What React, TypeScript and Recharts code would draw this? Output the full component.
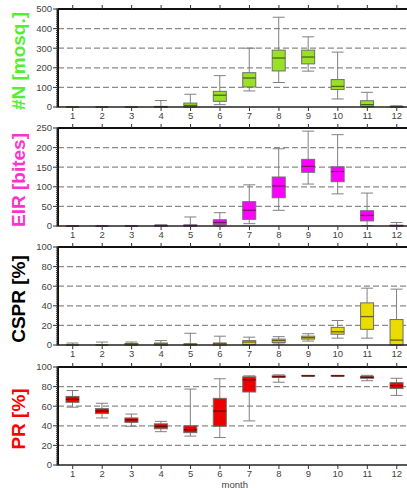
import React from 'react';
import { ComposedChart, Bar, XAxis, YAxis, CartesianGrid } from 'recharts';

const months = ['1', '2', '3', '4', '5', '6', '7', '8', '9', '10', '11', '12'];

// #N [mosq.]
const nMin = [0, 0, 0, 0, 0, 12, 82, 125, 183, 41, 0, 0];
const nQ1 = [0, 0, 0, 0, 0, 29, 102, 184, 220, 89, 3, 0];
const nMed = [0, 0, 0, 1, 8, 60, 148, 250, 255, 105, 12, 1];
const nQ3 = [0, 0, 0, 3, 20, 80, 175, 290, 290, 140, 32, 3];
const nMax = [0, 0, 0, 33, 65, 160, 300, 458, 358, 280, 75, 6];
const nTicks = [0, 100, 200, 300, 400, 500];

// EIR [bites]
const eirMin = [0, 0, 0, 0, 0, 0, 6, 40, 107, 82, 1, 0];
const eirQ1 = [0, 0, 0, 0, 0, 3, 17, 72, 137, 113, 13, 0];
const eirMed = [0, 0, 0, 1, 1, 9, 40, 102, 152, 139, 27, 1];
const eirQ3 = [0, 0, 0, 2, 3, 16, 62, 125, 170, 151, 39, 2];
const eirMax = [0, 0, 0, 3, 23, 34, 105, 197, 242, 233, 84, 9];
const eirTicks = [0, 50, 100, 150, 200, 250];

// CSPR [%]
const csprMin = [0, 0, 0, 0, 0, 0, 0, 1, 4, 7, 7, 0];
const csprQ1 = [0, 0, 0, 0, 0, 0, 0.5, 2.5, 6, 11, 16, 0];
const csprMed = [0, 0, 1, 1, 1, 1.5, 3, 4.5, 7.5, 13.5, 29, 5];
const csprQ3 = [0, 0, 1.5, 2, 1, 2, 4.5, 6, 9, 18, 43, 26];
const csprMax = [2, 3, 3, 4.5, 12, 9, 8, 8.5, 11.5, 25, 58, 57];
const pctTicks = [0, 20, 40, 60, 80, 100];

// PR [%]
const prMin = [59, 48, 39.5, 34, 29.5, 28, 45, 84.5, 90.5, 90.5, 86, 71];
const prQ1 = [64, 52.5, 43.5, 37, 33, 39.5, 74.5, 89.5, 90.8, 90.8, 88.5, 78];
const prMed = [67, 55, 46, 39.5, 36, 55, 87, 90, 91, 91, 89.5, 81];
const prQ3 = [70, 57.5, 48, 42, 40, 68, 90, 91, 91.2, 91.2, 90.5, 84];
const prMax = [76, 63, 52, 44.5, 77.5, 88, 91, 92, 91.5, 91.5, 91.5, 88.5];

const PLOT_H = 98;

const panels = [
  { label: '#N [mosq.]', labelColor: '#55ee33', fill: '#99e026', medColor: '#4a6a10', ticks: nTicks, minor: 10, top: 9,
    min: nMin, q1: nQ1, med: nMed, q3: nQ3, max: nMax },
  { label: 'EIR [bites]', labelColor: '#ff33cc', fill: '#ff00ff', medColor: '#7a107a', ticks: eirTicks, minor: 5, top: 128,
    min: eirMin, q1: eirQ1, med: eirMed, q3: eirQ3, max: eirMax },
  { label: 'CSPR [%]', labelColor: '#000000', fill: '#e8dc00', medColor: '#6a6400', ticks: pctTicks, minor: 2, top: 247,
    min: csprMin, q1: csprQ1, med: csprMed, q3: csprQ3, max: csprMax },
  { label: 'PR [%]', labelColor: '#ff0000', fill: '#ee0000', medColor: '#700000', ticks: pctTicks, minor: 2, top: 367,
    min: prMin, q1: prQ1, med: prMed, q3: prQ3, max: prMax },
];

const span = (p: any) => {
  const a = p.y, b = p.y + p.height;
  return [Math.min(a, b), Math.max(a, b)];
};

const Whisker = (p: any) => {
  const [t, b] = span(p);
  const cx = p.x + p.width / 2;
  const half = p.width / 2 - 0.5;
  return (
    <g stroke="#808080" strokeWidth={1}>
      <line x1={cx} x2={cx} y1={t} y2={b} />
      <line x1={cx - half} x2={cx + half} y1={t} y2={t} />
      <line x1={cx - half} x2={cx + half} y1={b} y2={b} />
    </g>
  );
};

const makeBox = (fill: string) => (p: any) => {
  const [t, b] = span(p);
  return <rect x={p.x} y={t} width={p.width} height={b - t} fill={fill} stroke="#6e6e6e" strokeWidth={1} />;
};

const makeMedian = (color: string) => (p: any) => {
  const [t] = span(p);
  return <line x1={p.x} x2={p.x + p.width} y1={t} y2={t} stroke={color} strokeWidth={1.3} />;
};

const makeYTick = (majors: number[]) => (p: any) => {
  const v = p.payload.value;
  if (!majors.includes(v)) return <g />;
  return (
    <g>
      <line x1={p.x} x2={p.x + 5} y1={p.y} y2={p.y} stroke="#333" />
      <text x={p.x - 1} y={p.y} dy="0.35em" textAnchor="end" fontSize={9.5} fill="#444">
        {v}
      </text>
    </g>
  );
};

const minorTicks = (max: number, step: number) => {
  const out: number[] = [];
  for (let v = 0; v <= max; v += step) out.push(v);
  return out;
};

const noTick = () => <g />;

function Panel({ cfg, last }: { cfg: any; last: boolean }) {
  const rows = months.map((m, i) => ({
    month: m,
    whisker: [cfg.min[i], cfg.max[i]],
    box: [cfg.q1[i], cfg.q3[i]],
    med: [cfg.med[i], cfg.med[i]],
  }));
  const top = cfg.ticks[cfg.ticks.length - 1];
  const bottomH = last ? 25 : 18;
  const yLabel = (lp: any) => {
    const vb = lp.viewBox;
    const cy = vb.y + vb.height / 2 + 3;
    return (
      <text x={25} y={cy} transform={`rotate(-90, 25, ${cy})`} textAnchor="middle"
        fontSize={19} fontWeight="bold" fill={cfg.labelColor}>
        {cfg.label}
      </text>
    );
  };
  return (
    <div style={{ position: 'absolute', left: 0, top: cfg.top - 5 }}>
      <ComposedChart width={421.5} height={5 + PLOT_H + bottomH} data={rows}
        margin={{ top: 4, right: 10, bottom: 0, left: 0 }}>
        <CartesianGrid xAxisId="bottom" yAxisId="main" vertical={false}
          horizontalValues={cfg.ticks.slice(1, -1)} stroke="#8a8a8a" strokeWidth={1.2} strokeDasharray="6 3" />
        <XAxis xAxisId="bottom" dataKey="month" height={bottomH} tickSize={4} tickMargin={1} interval={0}
          axisLine={{ stroke: '#222', strokeWidth: 1.5 }} tickLine={{ stroke: '#333' }}
          tick={{ fontSize: 9.5, fill: '#444' }}
          label={last ? { value: 'month', position: 'insideBottom', offset: 2, fontSize: 9.5, fill: '#444' } : undefined} />
        <XAxis xAxisId="top" dataKey="month" orientation="top" height={1} tick={noTick} tickSize={4}
          interval={0} axisLine={{ stroke: '#111', strokeWidth: 2 }} tickLine={{ stroke: '#333' }} />
        <XAxis xAxisId="w" dataKey="month" height={0} hide />
        <XAxis xAxisId="b" dataKey="month" height={0} hide />
        <XAxis xAxisId="m" dataKey="month" height={0} hide />
        <YAxis yAxisId="main" width={58} domain={[0, top]} ticks={minorTicks(top, cfg.minor)} interval={0}
          tickSize={2} tickMargin={3} tickLine={{ stroke: '#333' }} axisLine={{ stroke: '#111', strokeWidth: 2 }}
          tick={makeYTick(cfg.ticks)} label={yLabel} />
        <Bar xAxisId="w" yAxisId="main" dataKey="whisker" barSize={13} shape={Whisker} isAnimationActive={false} />
        <Bar xAxisId="b" yAxisId="main" dataKey="box" barSize={13} shape={makeBox(cfg.fill)} isAnimationActive={false} />
        <Bar xAxisId="m" yAxisId="main" dataKey="med" barSize={13} shape={makeMedian(cfg.medColor)} isAnimationActive={false} />
      </ComposedChart>
    </div>
  );
}

export default function App() {
  // fixed so the oversized chart never adds scrollbars to the page
  return (
    <div style={{ position: 'fixed', left: 0, top: 0, width: 407, height: 490, overflow: 'hidden',
      background: '#fff', fontFamily: '"Liberation Sans", Arial, sans-serif' }}>
      {panels.map((cfg, i) => (
        <Panel key={cfg.label} cfg={cfg} last={i === panels.length - 1} />
      ))}
    </div>
  );
}
